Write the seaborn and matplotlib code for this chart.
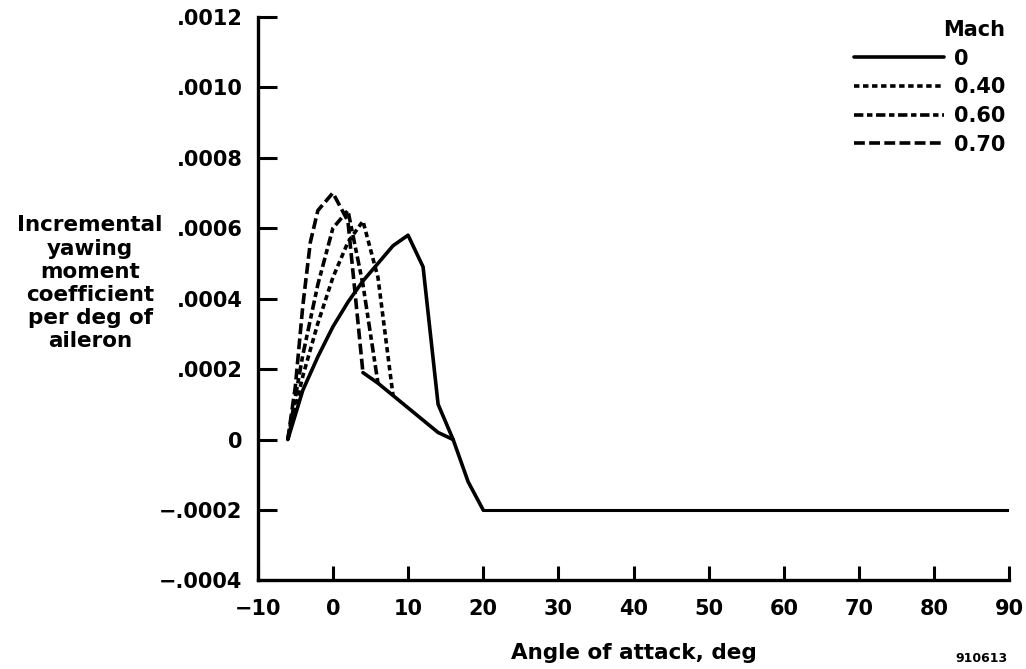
import numpy as np
import pandas as pd
import matplotlib
matplotlib.use("Agg")
import matplotlib.pyplot as plt
import seaborn as sns

# ---- data ----
mach_labels = ["0", "0.40", "0.60", "0.70"]

alpha_m000 = [-6, -4, -2, 0, 2, 4, 6, 8, 10, 12, 14, 16, 18, 20]
cn_m000 = [0.0, 0.00014, 0.000235, 0.00032, 0.00039, 0.00045, 0.0005, 0.00055,
           0.00058, 0.00049, 0.0001, 0.0, -0.00012, -0.0002]

alpha_m040 = [-6, -4, -2, 0, 2, 4, 6, 8]
cn_m040 = [0.0, 0.00018, 0.00033, 0.00046, 0.00056, 0.00062, 0.00046, 0.000125]

alpha_m060 = [-6, -4, -2, 0, 2, 4, 6]
cn_m060 = [0.0, 0.00024, 0.00044, 0.0006, 0.00065, 0.00044, 0.00016]

alpha_m070 = [-6, -5, -4, -3, -2, 0, 2, 4]
cn_m070 = [0.0, 0.00015, 0.00038, 0.00056, 0.00065, 0.0007, 0.00062, 0.00019]

# common post-stall branch (all Mach numbers) and high-alpha plateau
alpha_post = [4, 6, 8, 10, 12, 14, 16]
cn_post = [0.00019, 0.00016, 0.000125, 0.00009, 0.000055, 0.00002, 0.0]
alpha_flat = [20, 90]
cn_flat = [-0.0002, -0.0002]

x_ticks = [-10, 0, 10, 20, 30, 40, 50, 60, 70, 80, 90]
x_tick_labels = ["\u221210", "0", "10", "20", "30", "40", "50", "60", "70", "80", "90"]
y_ticks = [-0.0004, -0.0002, 0.0, 0.0002, 0.0004, 0.0006, 0.0008, 0.0010, 0.0012]
y_tick_labels = ["\u2212.0004", "\u2212.0002", "0", ".0002", ".0004", ".0006",
                 ".0008", ".0010", ".0012"]

# ---- build table ----
frames = []
for lab, a, c in zip(mach_labels,
                     [alpha_m000, alpha_m040, alpha_m060, alpha_m070],
                     [cn_m000, cn_m040, cn_m060, cn_m070]):
    frames.append(pd.DataFrame({"alpha": a, "cn": c, "mach": lab}))
df = pd.concat(frames, ignore_index=True)
post = pd.DataFrame({"alpha": alpha_post, "cn": cn_post})
flat = pd.DataFrame({"alpha": alpha_flat, "cn": cn_flat})

# ---- style ----
sns.set_style("ticks")
plt.rcParams["font.family"] = ["DejaVu Sans"]
plt.rcParams["font.weight"] = "bold"
plt.rcParams["axes.labelweight"] = "bold"
for k in ["text.color", "axes.labelcolor", "xtick.color", "ytick.color",
          "axes.edgecolor", "legend.labelcolor"]:
    plt.rcParams[k] = "black"

fig = plt.figure(figsize=(10.26, 6.69), dpi=100)
ax = fig.add_axes([0.2512, 0.1323, 0.7325, 0.8427])

LW = 2.6
dashes = {"0": "", "0.40": (1.5, 1.0), "0.60": (2.6, 1.0, 1.5, 1.0), "0.70": (3.0, 1.2)}
sns.lineplot(data=df, x="alpha", y="cn", hue="mach", style="mach",
             hue_order=mach_labels, style_order=mach_labels,
             palette=["black"] * 4, dashes=dashes, linewidth=LW,
             estimator=None, sort=False, ax=ax)
sns.lineplot(data=post, x="alpha", y="cn", color="black", linewidth=LW,
             estimator=None, sort=False, legend=False, ax=ax)
sns.lineplot(data=flat, x="alpha", y="cn", color="black", linewidth=2.2,
             estimator=None, sort=False, legend=False, ax=ax)

ax.set_xlim(-10, 90)
ax.set_ylim(-0.0004, 0.0012)
ax.set_xticks(x_ticks)
ax.set_xticklabels(x_tick_labels)
ax.set_yticks(y_ticks)
ax.set_yticklabels(y_tick_labels)
ax.tick_params(axis="y", direction="in", length=14, width=2.2, pad=11, labelsize=15)
ax.tick_params(axis="x", direction="in", length=10, width=2.2, pad=13, labelsize=15)
sns.despine(ax=ax)
for s in ["left", "bottom"]:
    ax.spines[s].set_linewidth(2.4)

ax.set_xlabel("Angle of attack, deg", fontsize=15.5, fontweight="bold")
ax.xaxis.set_label_coords(0.5, -0.1286)
ax.xaxis.label.set_va("center")
ax.set_ylabel("Incremental\nyawing\nmoment\ncoefficient\nper deg of\naileron",
              fontsize=15.5, fontweight="bold", rotation=0, ha="center", va="center",
              multialignment="center", linespacing=1.2)
ax.yaxis.set_label_coords(-0.223, 0.527)

sns.move_legend(ax, loc="upper right", bbox_to_anchor=(0.990, 0.986),
                bbox_transform=fig.transFigure, title="Mach", frameon=False,
                fontsize=15, title_fontsize=15, handlelength=4.3,
                handletextpad=0.5, labelspacing=0.42, borderpad=0,
                alignment="right")
leg = ax.get_legend()
leg.get_title().set_fontweight("bold")
for h in leg.legend_handles:
    h.set_linewidth(LW)

fig.text(0.957, 0.006, "910613", fontsize=9, fontweight="bold",
         ha="center", va="bottom")

fig.savefig("out.png", dpi=100)
